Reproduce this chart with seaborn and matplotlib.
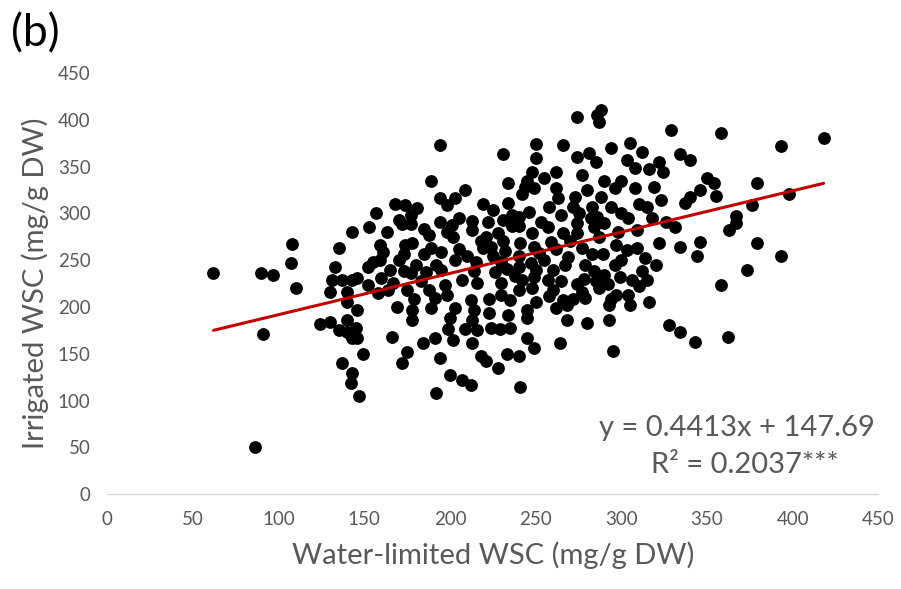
import matplotlib
matplotlib.use("Agg")
import matplotlib.pyplot as plt
import seaborn as sns
import numpy as np
import pandas as pd

# Water-limited WSC (x) and Irrigated WSC (y), mg/g DW
water_limited = [
    194, 231, 189, 234, 209, 194, 203, 198, 219, 225, 234, 157, 168, 174, 181, 170, 177, 194, 213, 222,
    231, 236, 153, 201,
    274, 288, 286, 287, 329, 250, 266, 250, 294, 305, 312, 281, 274, 285, 303, 322, 308, 316, 324, 248,
    262, 255, 277, 245, 244, 249, 242, 290, 300, 296, 308, 319, 262, 263, 280, 273, 288, 323, 315, 246,
    258, 272, 283, 294, 240, 253, 265, 286, 304, 318,
    358, 418, 393, 334, 340, 350, 354, 346, 355, 340, 337, 379, 398, 376, 367,
    143, 108, 135, 107, 133, 62, 90, 97, 110, 131, 137, 143, 130, 140, 140, 124, 130, 135, 140, 140,
    143, 91,
    163, 172, 177, 198, 188, 202, 213, 228, 221, 231, 236, 159, 161, 174, 178, 173, 185, 189, 195, 219,
    224, 155, 159, 152, 180, 186, 192, 203, 210, 173, 177, 207, 216, 214, 226, 233, 230, 146, 152, 160,
    167, 164, 175, 179, 191, 197, 198, 212, 223, 230, 235, 169, 178, 189, 203, 214, 223, 234, 146, 178,
    200, 213, 199, 209, 216, 224, 229, 235, 145, 166, 146, 184, 191, 202, 213,
    240, 248, 257, 266, 274, 274, 284, 287, 326, 309, 241, 249, 259, 277, 283, 289, 297, 303, 309, 314,
    322, 240, 247, 255, 267, 269, 279, 284, 296, 312, 242, 249, 257, 290, 299, 306, 315, 240, 248, 260,
    274, 277, 287, 292, 266, 272, 279, 294, 297, 304, 305, 293, 316, 262, 268, 245, 245, 268, 280, 293,
    328, 245, 264,
    331, 367, 363, 346, 334, 344, 379, 393, 373, 358, 334, 343, 362,
    137, 143, 142, 86,
    149, 147, 175, 172, 194, 200, 192, 207, 212, 218, 221, 228, 233,
    249, 240, 241, 295,
    185, 205, 218, 232, 240, 252, 260, 262, 270, 275, 282, 290, 298, 300, 310, 230, 238, 250, 258, 265,
    225, 215, 205, 195, 183, 170, 165, 158, 188, 250, 285, 300, 320, 310, 278,
]
irrigated = [
    373, 364, 335, 332, 325, 316, 317, 309, 310, 304, 311, 300, 310, 309, 306, 293, 298, 291, 292, 291,
    293, 298, 286, 288,
    403, 411, 405, 398, 389, 374, 373, 359, 370, 375, 366, 365, 360, 355, 357, 355, 348, 347, 344, 344,
    344, 338, 341, 335, 328, 327, 321, 335, 335, 327, 327, 328, 327, 316, 325, 318, 318, 314, 307, 302,
    307, 307, 307, 307, 296, 291, 298, 296, 295, 295,
    386, 381, 372, 364, 357, 338, 333, 325, 319, 318, 311, 333, 321, 309, 297,
    280, 267, 263, 247, 243, 236, 236, 234, 220, 229, 229, 229, 216, 216, 205, 182, 184, 175, 173, 186,
    167, 171,
    280, 289, 289, 280, 277, 275, 282, 279, 275, 271, 287, 266, 259, 266, 268, 257, 257, 263, 259, 263,
    264, 248, 250, 243, 245, 237, 245, 250, 255, 239, 236, 229, 226, 239, 237, 241, 226, 231, 223, 231,
    226, 218, 218, 209, 210, 223, 213, 207, 209, 213, 207, 200, 197, 199, 199, 197, 194, 191, 197, 186,
    188, 186, 177, 177, 175, 178, 177, 178, 178, 168, 167, 161, 167, 165, 162,
    287, 279, 285, 279, 290, 279, 285, 275, 291, 282, 268, 264, 269, 263, 257, 257, 266, 261, 263, 252,
    268, 243, 247, 250, 245, 253, 245, 239, 245, 239, 229, 232, 229, 234, 232, 229, 229, 218, 220, 218,
    225, 216, 220, 225, 207, 209, 210, 209, 213, 213, 202, 202, 205, 199, 202, 197, 188, 186, 183, 186,
    181, 167, 161,
    285, 290, 282, 269, 264, 255, 268, 255, 240, 224, 173, 163, 168,
    140, 130, 119, 50,
    150, 105, 152, 140, 146, 127, 108, 122, 117, 148, 142, 135, 150,
    156, 148, 115, 153,
    283, 295, 270, 260, 255, 258, 240, 262, 270, 300, 295, 290, 280, 300, 310, 248, 233, 240, 212, 228,
    255, 248, 262, 240, 228, 250, 240, 215, 218, 205, 228, 250, 245, 222, 230,
]

slope = 0.4413
intercept = 147.69
equation_text = "y = 0.4413x + 147.69"
r2_text = "R² = 0.2037***"

df = pd.DataFrame({"x": water_limited, "y": irrigated})
trend_x = np.array([min(water_limited), max(water_limited)])
trend = pd.DataFrame({"x": trend_x, "y": slope * trend_x + intercept})

sns.set_theme(style="white")
plt.rcParams["font.family"] = ["Lato", "DejaVu Sans"]

fig = plt.figure(figsize=(9.01, 5.89), dpi=100)
ax = fig.add_axes([0.119, 0.161, 0.856, 0.715])

sns.scatterplot(data=df, x="x", y="y", ax=ax, color="black", s=85,
                edgecolor="black", linewidth=0, zorder=2)
sns.lineplot(data=trend, x="x", y="y", ax=ax, color="#C00000", linewidth=2.2, zorder=3)

ax.set_xlim(0, 450)
ax.set_ylim(0, 450)
ax.set_xticks(np.arange(0, 451, 50))
ax.set_yticks(np.arange(0, 451, 50))
gray = "#595959"
ax.tick_params(axis="both", labelsize=13.5, colors=gray, length=0)
ax.tick_params(axis="x", pad=12)
ax.tick_params(axis="y", pad=12)
for s in ["top", "right", "left"]:
    ax.spines[s].set_visible(False)
ax.spines["bottom"].set_color("#D9D9D9")
ax.spines["bottom"].set_linewidth(1)

ax.set_xlabel("Water-limited WSC (mg/g DW)", fontsize=21, color=gray, labelpad=10)
ax.set_ylabel("Irrigated WSC (mg/g DW)", fontsize=21, color=gray, labelpad=6)

ax.text(0.817, 0.158, equation_text, transform=ax.transAxes, ha="center", va="center",
        fontsize=21, color=gray)
ax.text(0.827, 0.069, r2_text, transform=ax.transAxes, ha="center", va="center",
        fontsize=21, color=gray)

fig.text(0.012, 0.942, "(b)", fontsize=32, color="black", ha="left", va="center")

fig.savefig("out.png", dpi=100)
